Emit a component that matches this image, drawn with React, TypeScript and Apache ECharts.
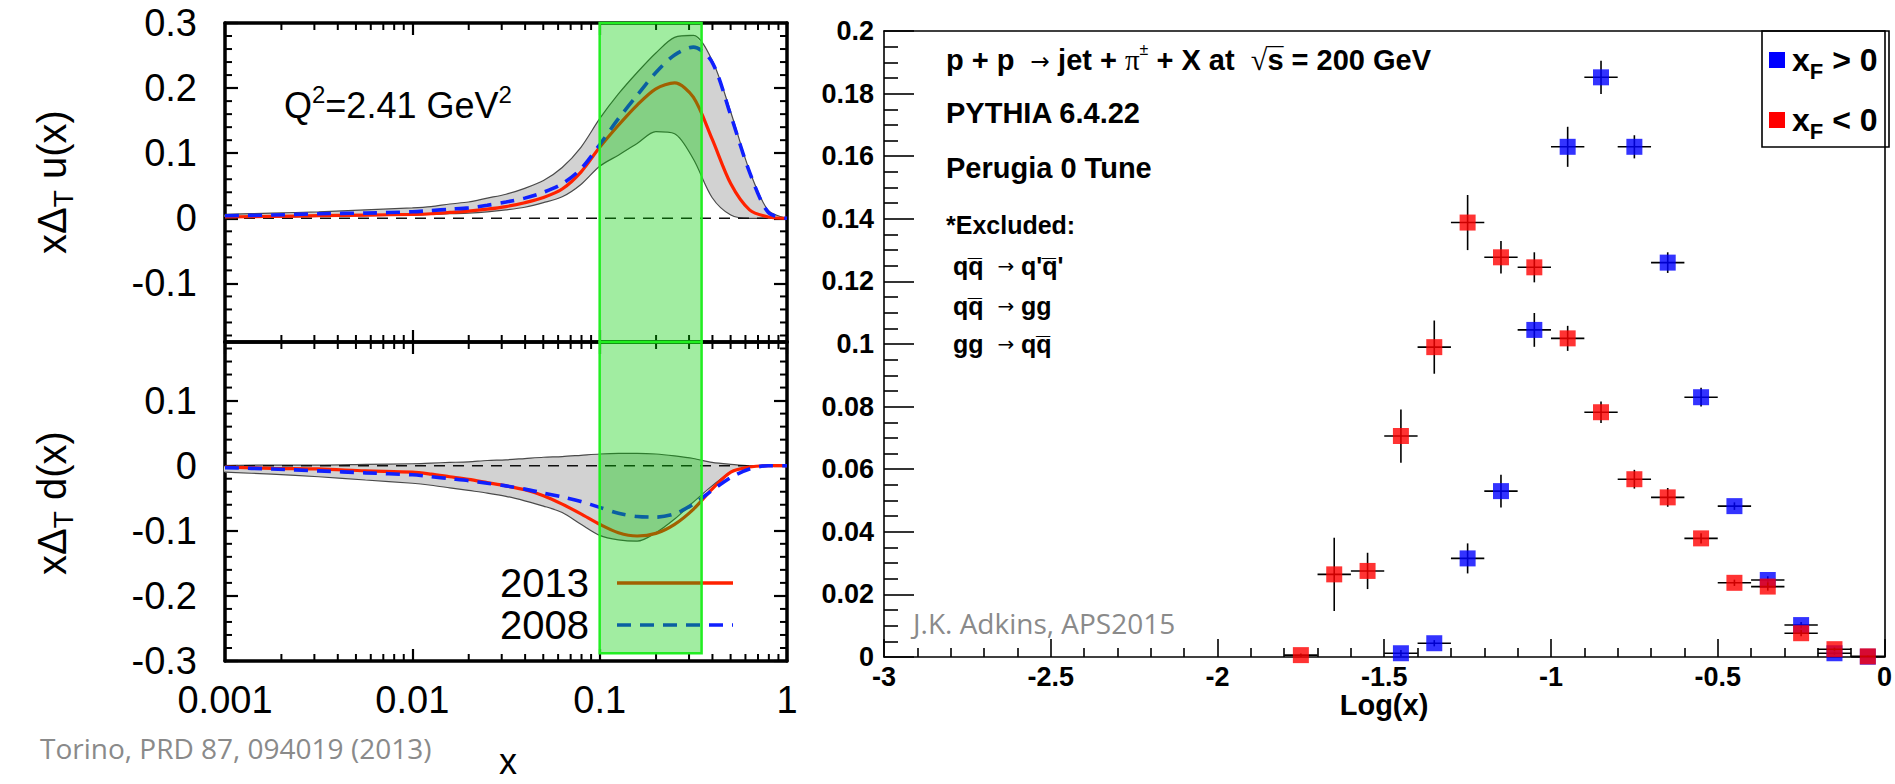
import React, { useEffect, useRef } from "react";
import * as echarts from "echarts";

// ---------- Left: Torino transversity fit, Q^2 = 2.41 GeV^2 ----------
// Bjorken-x sampling points shared by all curves
const xGrid = [
  0.001, 0.001778, 0.003162, 0.005623, 0.01, 0.01259, 0.01585, 0.01995, 0.02512, 0.03162, 0.03981, 0.05012, 0.0631,
  0.07943, 0.1, 0.1259, 0.1585, 0.1995, 0.2512, 0.3162, 0.3981, 0.5012, 0.631, 0.7943, 1,
];

// x Delta_T u(x)
const uBandHi = [0.006, 0.008, 0.01, 0.013, 0.016, 0.018, 0.022, 0.025, 0.031, 0.037, 0.046, 0.058, 0.078, 0.109, 0.153, 0.191, 0.224, 0.254, 0.278, 0.281, 0.243, 0.163, 0.073, 0.012, 0];
const uBandLo = [0.002, 0.002, 0.003, 0.004, 0.005, 0.006, 0.007, 0.008, 0.01, 0.013, 0.017, 0.024, 0.033, 0.052, 0.08, 0.097, 0.115, 0.133, 0.13, 0.091, 0.032, 0.005, 0, 0, 0];
const u2013 = [0.002, 0.003, 0.004, 0.005, 0.006, 0.007, 0.009, 0.011, 0.014, 0.018, 0.024, 0.032, 0.045, 0.071, 0.109, 0.143, 0.174, 0.199, 0.208, 0.186, 0.122, 0.053, 0.013, 0.002, 0];
const u2008 = [0.004, 0.005, 0.007, 0.008, 0.01, 0.012, 0.014, 0.016, 0.02, 0.025, 0.031, 0.04, 0.053, 0.076, 0.113, 0.153, 0.189, 0.224, 0.251, 0.263, 0.24, 0.158, 0.071, 0.009, 0];

// x Delta_T d(x)
const dBandHi = [0, 0.001, 0.001, 0.002, 0.003, 0.004, 0.005, 0.006, 0.008, 0.009, 0.011, 0.013, 0.014, 0.016, 0.018, 0.019, 0.019, 0.018, 0.015, 0.011, 0.005, 0.002, 0, 0, 0];
const dBandLo = [-0.01, -0.013, -0.017, -0.022, -0.027, -0.03, -0.034, -0.038, -0.042, -0.047, -0.054, -0.062, -0.072, -0.09, -0.107, -0.114, -0.116, -0.103, -0.082, -0.056, -0.031, -0.01, -0.002, 0, 0];
const d2013 = [-0.002, -0.004, -0.005, -0.008, -0.01, -0.013, -0.017, -0.021, -0.026, -0.031, -0.037, -0.046, -0.059, -0.074, -0.09, -0.103, -0.108, -0.104, -0.09, -0.067, -0.036, -0.01, -0.002, 0, 0];
const d2008 = [-0.003, -0.005, -0.008, -0.011, -0.014, -0.017, -0.02, -0.023, -0.027, -0.031, -0.036, -0.042, -0.048, -0.055, -0.064, -0.073, -0.078, -0.079, -0.074, -0.059, -0.038, -0.018, -0.005, 0, 0];

// highlighted x window
const xWindow = [0.1, 0.35];

// panel ranges and labelled ticks
const uRange = [-0.19, 0.3];
const dRange = [-0.3, 0.19];
const uTicks = [-0.1, 0, 0.1, 0.2, 0.3];
const dTicks = [-0.3, -0.2, -0.1, 0, 0.1];
const xDecades = [0.001, 0.01, 0.1];
const minorMultipliers = [2, 3, 4, 5, 6, 7, 8, 9];

// ---------- Right: PYTHIA 6.4.22, Log(x) ----------
const binHalfWidth = 0.05;
const binPosXF = [-1.45, -1.35, -1.25, -1.15, -1.05, -0.95, -0.85, -0.75, -0.65, -0.55, -0.45, -0.35, -0.25, -0.15, -0.05];
const valPosXF = [0.0012, 0.0044, 0.0315, 0.053, 0.1045, 0.163, 0.1852, 0.163, 0.126, 0.083, 0.0482, 0.0246, 0.0102, 0.0012, 0.0001];
const errPosXF = [0.001, 0.001, 0.0048, 0.0052, 0.0054, 0.0064, 0.0053, 0.0037, 0.0033, 0.003, 0.0012, 0.0012, 0.001, 0.0005, 0.0002];

const binNegXF = [-1.75, -1.65, -1.55, -1.45, -1.35, -1.25, -1.15, -1.05, -0.95, -0.85, -0.75, -0.65, -0.55, -0.45, -0.35, -0.25, -0.15, -0.05];
const valNegXF = [0.0006, 0.0264, 0.0275, 0.0706, 0.099, 0.1388, 0.1277, 0.1245, 0.1018, 0.0782, 0.0568, 0.051, 0.0379, 0.0237, 0.0225, 0.0076, 0.0025, 0.0002];
const errNegXF = [0.0005, 0.0117, 0.0058, 0.0085, 0.0085, 0.0088, 0.0052, 0.0048, 0.004, 0.0034, 0.003, 0.003, 0.0016, 0.001, 0.0013, 0.001, 0.0005, 0.0002];

const BLACK = "#000";
const SANS = "'Liberation Sans', Arial, Helvetica, sans-serif";
const SERIF = "'Liberation Serif', 'DejaVu Serif', serif";
const NOTE = "'Open Sans', 'Noto Sans', sans-serif";
const RED = "#ff2200";
const BLUE = "#1020ff";
const SMOOTH = 0.3;

const pairs = (xs: number[], ys: number[]) => xs.map((x, i) => [x, ys[i]]);

function leftXAxis(gridIndex: number, position: string, showLabels: boolean) {
  return {
    type: "log",
    logBase: 10,
    min: 0.001,
    max: 1,
    gridIndex,
    position,
    axisLine: { show: true, onZero: false, lineStyle: { color: BLACK, width: 3.5 } },
    axisTick: { show: true, inside: true, length: 12, lineStyle: { color: BLACK, width: 2.2 } },
    axisLabel: { show: showLabels, margin: 20, fontFamily: SANS, fontSize: 38, color: BLACK },
    splitLine: { show: false },
  };
}

function leftYAxis(gridIndex: number, position: string, range: number[], ticks: number[], showLabels: boolean) {
  return {
    type: "value",
    gridIndex,
    position,
    min: range[0],
    max: range[1],
    axisLine: { show: true, onZero: false, lineStyle: { color: BLACK, width: 3.5 } },
    axisTick: { show: true, inside: true, length: 13, customValues: ticks, lineStyle: { color: BLACK, width: 2.2 } },
    axisLabel: { show: showLabels, customValues: ticks, margin: 28, fontFamily: SANS, fontSize: 38, color: BLACK },
    splitLine: { show: false },
  };
}

// small ticks at 2..9 of each decade, on the bottom and top edges of a panel
function logMinorTicks(xIdx: number, yIdx: number, range: number[]) {
  const data: number[][] = [];
  xDecades.forEach((d) => minorMultipliers.forEach((k) => data.push([k * d, range[0]])));
  return {
    type: "custom",
    xAxisIndex: xIdx,
    yAxisIndex: yIdx,
    silent: true,
    z: 3,
    data,
    renderItem: (_p: any, api: any) => {
      const x = api.value(0);
      const b = api.coord([x, range[0]]);
      const t = api.coord([x, range[1]]);
      const st = { stroke: BLACK, lineWidth: 2 };
      return {
        type: "group",
        children: [
          { type: "line", shape: { x1: b[0], y1: b[1], x2: b[0], y2: b[1] - 7 }, style: st },
          { type: "line", shape: { x1: t[0], y1: t[1], x2: t[0], y2: t[1] + 7 }, style: st },
        ],
      };
    },
  };
}

// small ticks every 0.02 on the left and right edges of a panel
function valueMinorTicks(xIdx: number, yIdx: number, range: number[]) {
  const data: number[][] = [];
  for (let i = Math.ceil(range[0] / 0.02 - 1e-6); i * 0.02 <= range[1] + 1e-9; i++) {
    if (i % 5 !== 0) data.push([0.001, +(i * 0.02).toFixed(3)]);
  }
  return {
    type: "custom",
    xAxisIndex: xIdx,
    yAxisIndex: yIdx,
    silent: true,
    z: 3,
    data,
    renderItem: (_p: any, api: any) => {
      const y = api.value(1);
      const l = api.coord([0.001, y]);
      const r = api.coord([1, y]);
      const st = { stroke: BLACK, lineWidth: 2 };
      return {
        type: "group",
        children: [
          { type: "line", shape: { x1: l[0], y1: l[1], x2: l[0] + 7, y2: l[1] }, style: st },
          { type: "line", shape: { x1: r[0], y1: r[1], x2: r[0] - 7, y2: r[1] }, style: st },
        ],
      };
    },
  };
}

function windowBand(xIdx: number, yIdx: number, yLo: number, yHi: number) {
  return {
    type: "custom",
    xAxisIndex: xIdx,
    yAxisIndex: yIdx,
    silent: true,
    z: 10,
    data: [[xWindow[0], yLo, xWindow[1], yHi]],
    renderItem: (_p: any, api: any) => {
      const a = api.coord([api.value(0), api.value(3)]);
      const b = api.coord([api.value(2), api.value(1)]);
      return {
        type: "rect",
        shape: { x: a[0], y: a[1], width: b[0] - a[0], height: b[1] - a[1] },
        style: { fill: "rgba(0,205,0,0.37)", stroke: "#22ee22", lineWidth: 2.5 },
      };
    },
  };
}

// grey uncertainty band: filled region between the lower and upper edges
function errorBand(xIdx: number, yIdx: number, lo: number[], hi: number[]) {
  return {
    type: "custom",
    xAxisIndex: xIdx,
    yAxisIndex: yIdx,
    silent: true,
    z: 2,
    data: [[xGrid[0], lo[0]]],
    renderItem: (_p: any, api: any) => {
      const pts: number[][] = [];
      xGrid.forEach((x, i) => pts.push(api.coord([x, hi[i]])));
      for (let i = xGrid.length - 1; i >= 0; i--) pts.push(api.coord([xGrid[i], lo[i]]));
      return { type: "polygon", shape: { points: pts, smooth: 0.25 }, style: { fill: "#d2d2d2" } };
    },
  };
}

function panelSeries(xIdx: number, yIdx: number, lo: number[], hi: number[], c2013: number[], c2008: number[]) {
  const common = { xAxisIndex: xIdx, yAxisIndex: yIdx, showSymbol: false, symbol: "none", silent: true, smooth: SMOOTH };
  return [
    errorBand(xIdx, yIdx, lo, hi),
    { ...common, type: "line", z: 3, data: pairs(xGrid, lo), lineStyle: { color: "#4a4a4a", width: 1.2 } },
    { ...common, type: "line", z: 3, data: pairs(xGrid, hi), lineStyle: { color: "#4a4a4a", width: 1.2 } },
    {
      type: "line",
      xAxisIndex: xIdx,
      yAxisIndex: yIdx,
      symbol: "none",
      silent: true,
      z: 4,
      data: [[0.001, 0], [1, 0]],
      lineStyle: { color: "#111", width: 1.4, type: [11, 8] },
    },
    { ...common, type: "line", name: "2013", z: 5, data: pairs(xGrid, c2013), lineStyle: { color: RED, width: 3.2 } },
    { ...common, type: "line", name: "2008", z: 6, data: pairs(xGrid, c2008), lineStyle: { color: BLUE, width: 3.6, type: [14, 9] } },
  ];
}

function errorBars(xs: number[], ys: number[], es: number[], z: number) {
  return {
    type: "custom",
    xAxisIndex: 4,
    yAxisIndex: 4,
    silent: true,
    z,
    dimensions: ["x", "y", "err"],
    encode: { x: 0, y: 1 },
    data: xs.map((x, i) => [x, ys[i], es[i]]),
    renderItem: (_p: any, api: any) => {
      const x = api.value(0);
      const y = api.value(1);
      const e = api.value(2);
      const c = api.coord([x, y]);
      const lo = api.coord([x, Math.max(0, y - e)]);
      const hi = api.coord([x, y + e]);
      const l = api.coord([x - binHalfWidth, y]);
      const r = api.coord([x + binHalfWidth, y]);
      const st = { stroke: BLACK, lineWidth: 1.6 };
      return {
        type: "group",
        children: [
          { type: "line", shape: { x1: l[0], y1: c[1], x2: r[0], y2: c[1] }, style: st },
          { type: "line", shape: { x1: c[0], y1: lo[1], x2: c[0], y2: hi[1] }, style: st },
        ],
      };
    },
  };
}

function squares(xs: number[], ys: number[], color: string, z: number) {
  return {
    type: "scatter",
    xAxisIndex: 4,
    yAxisIndex: 4,
    silent: true,
    z,
    symbol: "rect",
    symbolSize: 16,
    itemStyle: { color },
    data: pairs(xs, ys),
  };
}

function buildOption() {
  const boldAxisLabel = { fontFamily: SANS, fontWeight: "bold", fontSize: 27, color: BLACK };
  const thinLine = { show: true, onZero: false, lineStyle: { color: BLACK, width: 1.6 } };

  const rightText = (text: string, y: number, size: number) => ({
    type: "text",
    x: 946,
    y,
    style: {
      text,
      align: "left",
      verticalAlign: "middle",
      fontFamily: SANS,
      fontWeight: "bold",
      fontSize: size,
      fill: BLACK,
      rich: {
        b: { fontFamily: SANS, fontWeight: "bold", fontSize: size, lineHeight: 38 },
        ar: { fontFamily: "'DejaVu Sans', sans-serif", fontWeight: "normal", fontSize: size * 0.8, lineHeight: 38 },
        g: { fontFamily: SERIF, fontWeight: "normal", fontSize: size, lineHeight: 38 },
        sp: { fontFamily: SANS, fontWeight: "normal", fontSize: size * 0.55, lineHeight: 22, verticalAlign: "top" },
        r: { fontFamily: SERIF, fontWeight: "normal", fontSize: size * 1.05, lineHeight: 38 },
      },
    },
  });

  const legendEntry = (label: string, y: number) => ({
    type: "text",
    x: 1792,
    y,
    style: {
      text: `{a|x}{s|F}{a| ${label} 0}`,
      align: "left",
      verticalAlign: "middle",
      rich: {
        a: { fontFamily: SANS, fontWeight: "bold", fontSize: 32, lineHeight: 44, fill: BLACK },
        s: { fontFamily: SANS, fontWeight: "bold", fontSize: 22, lineHeight: 22, verticalAlign: "bottom", fill: BLACK },
      },
    },
  });

  const yTitle = (fn: string, y: number) => ({
    type: "text",
    x: 52,
    y,
    rotation: Math.PI / 2,
    style: {
      text: `{a|xΔ}{s|T}{a| ${fn}}`,
      align: "center",
      verticalAlign: "middle",
      rich: {
        a: { fontFamily: SANS, fontSize: 40, lineHeight: 50, fill: BLACK },
        s: { fontFamily: SANS, fontSize: 28, lineHeight: 28, verticalAlign: "bottom", fill: BLACK },
      },
    },
  });

  return {
    animation: false,
    backgroundColor: "#fff",
    grid: [
      { left: 225, top: 23, width: 562, height: 319 },
      { left: 225, top: 342, width: 562, height: 319 },
      { left: 884, top: 31, width: 1005, height: 626 },
    ],
    xAxis: [
      leftXAxis(0, "bottom", false),
      leftXAxis(0, "top", false),
      leftXAxis(1, "bottom", true),
      leftXAxis(1, "top", false),
      {
        type: "value",
        gridIndex: 2,
        position: "bottom",
        min: -3,
        max: 0,
        interval: 0.5,
        axisLine: thinLine,
        axisTick: { show: true, inside: true, length: 18, lineStyle: { color: BLACK, width: 1.6 } },
        minorTick: { show: true, splitNumber: 5, length: 9, lineStyle: { color: BLACK, width: 1.6 } },
        axisLabel: { ...boldAxisLabel, margin: 6 },
        splitLine: { show: false },
      },
      {
        type: "value",
        gridIndex: 2,
        position: "top",
        min: -3,
        max: 0,
        interval: 0.5,
        axisLine: thinLine,
        axisTick: { show: false },
        axisLabel: { show: false },
        splitLine: { show: false },
      },
    ],
    yAxis: [
      leftYAxis(0, "left", uRange, uTicks, true),
      leftYAxis(0, "right", uRange, uTicks, false),
      leftYAxis(1, "left", dRange, dTicks, true),
      leftYAxis(1, "right", dRange, dTicks, false),
      {
        type: "value",
        gridIndex: 2,
        position: "left",
        min: 0,
        max: 0.2,
        interval: 0.02,
        axisLine: thinLine,
        axisTick: { show: true, inside: true, length: 30, lineStyle: { color: BLACK, width: 1.6 } },
        minorTick: { show: true, splitNumber: 4, length: 14, lineStyle: { color: BLACK, width: 1.6 } },
        axisLabel: { ...boldAxisLabel, margin: 10 },
        splitLine: { show: false },
      },
      {
        type: "value",
        gridIndex: 2,
        position: "right",
        min: 0,
        max: 0.2,
        interval: 0.02,
        axisLine: thinLine,
        axisTick: { show: false },
        axisLabel: { show: false },
        splitLine: { show: false },
      },
    ],
    series: [
      ...panelSeries(0, 0, uBandLo, uBandHi, u2013, u2008),
      ...panelSeries(2, 2, dBandLo, dBandHi, d2013, d2008),
      logMinorTicks(0, 0, uRange),
      logMinorTicks(2, 2, dRange),
      valueMinorTicks(0, 0, uRange),
      valueMinorTicks(2, 2, dRange),
      windowBand(0, 0, uRange[0], uRange[1]),
      windowBand(2, 2, -0.288, dRange[1]),
      errorBars(binPosXF, valPosXF, errPosXF, 2),
      squares(binPosXF, valPosXF, "#0000ff", 3),
      errorBars(binNegXF, valNegXF, errNegXF, 4),
      squares(binNegXF, valNegXF, "#ff0000", 5),
    ],
    graphic: [
      // left panel titles and notes
      yTitle("u(x)", 182),
      yTitle("d(x)", 503),
      {
        type: "text",
        x: 284,
        y: 105,
        style: {
          text: "{a|Q}{p|2}{a|=2.41 GeV}{p|2}",
          align: "left",
          verticalAlign: "middle",
          rich: {
            a: { fontFamily: SANS, fontSize: 36, lineHeight: 46, fill: BLACK },
            p: { fontFamily: SANS, fontSize: 24, lineHeight: 24, verticalAlign: "top", fill: BLACK },
          },
        },
      },
      { type: "text", x: 589, y: 583, style: { text: "2013", align: "right", verticalAlign: "middle", fontFamily: SANS, fontSize: 40, fill: BLACK } },
      { type: "text", x: 589, y: 625, style: { text: "2008", align: "right", verticalAlign: "middle", fontFamily: SANS, fontSize: 40, fill: BLACK } },
      { type: "line", shape: { x1: 617, y1: 583, x2: 733, y2: 583 }, style: { stroke: RED, lineWidth: 3.4 } },
      { type: "line", shape: { x1: 617, y1: 625, x2: 733, y2: 625 }, style: { stroke: BLUE, lineWidth: 3.6, lineDash: [14, 9] } },
      { type: "text", x: 508, y: 761, style: { text: "x", align: "center", verticalAlign: "middle", fontFamily: SANS, fontSize: 36, fill: BLACK } },
      { type: "text", x: 40, y: 748, style: { text: "Torino, PRD 87, 094019 (2013)", align: "left", verticalAlign: "middle", fontFamily: NOTE, fontSize: 28, fill: "#8a8a8a" } },

      // right panel annotations
      rightText("{b|p + p  }{ar|→}{b| jet + }{g|π}{sp|±}{b| + X at  }{r|√}{b|s\u0305 = 200 GeV}", 60, 29),
      rightText("{b|PYTHIA 6.4.22}", 113, 29),
      rightText("{b|Perugia 0 Tune}", 168, 29),
      rightText("{b|*Excluded:}", 225, 25),
      rightText("{b| qq\u0305  }{ar|→}{b| q'q\u0305'}", 266, 25),
      rightText("{b| qq\u0305  }{ar|→}{b| gg}", 306, 25),
      rightText("{b| gg  }{ar|→}{b| qq\u0305}", 344, 25),
      { type: "text", x: 913, y: 623, style: { text: "J.K. Adkins, APS2015", align: "left", verticalAlign: "middle", fontFamily: NOTE, fontSize: 28, fill: "#8a8a8a" } },
      { type: "text", x: 1384, y: 705, style: { text: "Log(x)", align: "center", verticalAlign: "middle", fontFamily: SANS, fontWeight: "bold", fontSize: 29, fill: BLACK } },

      // right panel legend
      { type: "rect", shape: { x: 1762, y: 31, width: 127, height: 116 }, style: { fill: "#fff", stroke: BLACK, lineWidth: 1.6 } },
      { type: "rect", shape: { x: 1769, y: 52, width: 16, height: 16 }, style: { fill: "#0000ff" } },
      { type: "rect", shape: { x: 1769, y: 112, width: 16, height: 16 }, style: { fill: "#ff0000" } },
      legendEntry(">", 60),
      legendEntry("<", 120),
    ],
  };
}

export default function App() {
  const ref = useRef<HTMLDivElement>(null);
  useEffect(() => {
    if (!ref.current) return;
    const chart = echarts.init(ref.current, null, { renderer: "svg" });
    chart.setOption(buildOption() as any);
    return () => chart.dispose();
  }, []);
  return (
    <div
      ref={ref}
      style={{ position: "fixed", left: 0, top: 0, width: 1895, height: 784, background: "#fff" }}
    />
  );
}
